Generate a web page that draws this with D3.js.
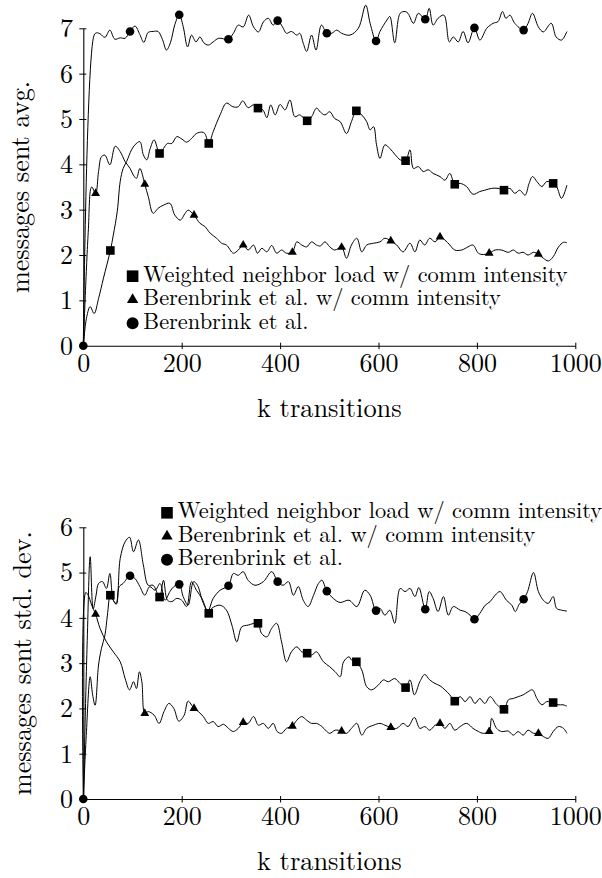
<!DOCTYPE html>
<html><head><meta charset="utf-8">
<script src="https://cdn.jsdelivr.net/npm/d3@7"></script>
<style>html,body{margin:0;padding:0;background:#fff;}svg{display:block;}</style>
</head><body>
<svg id="chart" width="602" height="878"></svg>
<script>
// ---------- tick labels / categories ----------
const xTicks = [0, 200, 400, 600, 800, 1000];
const avgTicks = [0, 1, 2, 3, 4, 5, 6, 7];
const sdTicks = [0, 1, 2, 3, 4, 5, 6];
const legendLabels = ["Weighted neighbor load w/ comm intensity", "Berenbrink et al. w/ comm intensity", "Berenbrink et al."];
const xLabel = "k transitions";
const avgLabel = "messages sent avg.";
const sdLabel = "messages sent std. dev.";

// marker positions (k)
const markSquareK = [55, 155, 255, 355, 455, 555, 655, 755, 855, 955];
const markTriangleK = [25, 125, 225, 325, 425, 525, 625, 725, 825, 925];
const markCircleK = [0, 95, 195, 295, 395, 495, 595, 695, 795, 895];

// ---------- top panel: messages sent avg. ----------
const avgSquareK = [0,7,14,22,31,41,55,61,69,75,81,88,98,105,115,122,129,136,144,155,163,171,180,190,200,210,220,230,241,247,255,264,278,291,304,315,324,335,346,355,365,373,381,390,400,410,420,430,440,455,464,474,482,491,501,511,522,535,545,555,566,576,583,590,596,603,613,623,634,644,655,664,671,681,691,701,711,725,735,745,755,766,779,792,806,816,830,843,855,867,877,887,898,906,913,922,932,942,955,962,972,983];
const avgSquareV = [0,0.64,0.86,0.71,1.04,1.49,2.10,2.44,2.96,3.62,3.91,4.06,4.32,4.43,4.5,4.21,4.1,4.35,4.54,4.24,4.35,4.46,4.46,4.61,4.56,4.49,4.57,4.68,4.71,4.68,4.46,4.72,5.09,5.35,5.27,5.27,5.40,5.25,5.31,5.24,5.20,5.03,5.31,5.09,5.32,5.2,5.42,5.05,5.09,4.96,5.05,5.24,5.15,5.09,5.16,5.01,4.94,4.68,4.94,5.18,5.09,4.94,4.76,4.83,4.43,4.13,4.43,4.35,4.21,4.1,4.08,4.32,3.91,3.95,3.84,3.88,3.80,3.73,3.65,3.80,3.56,3.58,3.51,3.34,3.40,3.43,3.47,3.47,3.43,3.47,3.36,3.43,3.32,3.58,3.73,3.62,3.51,3.62,3.58,3.51,3.25,3.54];

const avgTriangleK = [0,10,17,25,31,37,44,54,65,75,85,95,102,108,115,125,132,142,152,163,176,186,197,207,213,225,237,247,258,271,281,291,305,315,325,335,346,354,363,373,383,393,403,413,425,434,444,454,464,474,482,491,501,511,525,535,545,556,566,576,590,603,613,625,637,650,664,674,684,694,704,715,725,735,745,755,769,782,792,803,813,825,837,850,864,874,884,894,904,915,925,935,945,955,966,976,983];
const avgTriangleV = [0,2.5,3.5,3.36,3.84,4.17,4.2,3.99,4.40,4.28,4.06,3.91,3.76,3.69,3.91,3.56,3.29,2.92,3.03,3.10,3.14,2.88,2.77,2.92,2.99,2.88,2.70,2.63,2.48,2.37,2.26,2.22,2.04,2.11,2.22,2.11,2.22,2.04,2.15,2.07,2.21,2.04,2.11,2.04,2.06,2.29,2.22,2.18,2.29,2.22,2.2,2.29,2.18,2.11,2.17,1.93,2.22,2.37,2.07,2.22,2.26,2.29,2.37,2.31,2.22,2.07,2.26,2.07,2.33,2.22,2.37,2.29,2.40,2.33,2.22,2.11,2.11,2.18,2.22,2.04,2.01,2.04,2.11,2.11,2.06,2.11,2.04,2.06,2.0,2.06,2.02,1.93,1.87,1.96,2.18,2.28,2.27];

const avgCircleK = [0,22,27,34,44,54,64,75,85,95,105,115,123,132,142,152,161,169,177,186,195,203,212,220,229,237,245,254,264,275,295,305,315,325,336,346,356,366,376,386,395,405,413,423,434,440,447,454,464,473,484,495,505,515,525,542,559,574,583,595,603,617,623,633,644,654,660,671,681,695,703,711,721,733,744,752,762,772,782,795,806,820,833,843,852,859,867,877,895,904,913,925,935,951,961,972,983];
const avgCircleV = [0,6.85,6.9,6.88,6.8,6.96,6.76,6.79,6.78,6.93,7.05,6.86,6.69,6.91,6.93,6.93,6.75,6.52,6.68,7.08,7.3,7.04,6.59,6.85,6.7,6.81,6.68,6.63,6.70,6.78,6.76,6.89,7.07,7.03,7.29,7.03,6.92,7.14,7.22,7.07,7.17,7.03,6.89,6.93,6.85,6.89,6.67,6.49,6.85,6.52,7.07,6.89,6.89,6.96,6.89,6.85,7.0,7.51,7.11,6.72,6.93,7.18,7.26,6.68,7.33,7.37,7.33,7.11,7.33,7.2,7.44,7.07,7.22,7.29,6.70,6.81,6.70,6.93,6.68,7.01,6.74,7.0,7.11,7.15,7.37,7.22,7.29,7.11,6.96,7.11,7.33,7.03,6.92,7.11,6.81,6.74,6.93];

// ---------- bottom panel: messages sent std. dev. ----------
const sdSquareK = [0,6,14,19,24,31,37,44,49,55,61,67,75,85,94,102,112,122,132,142,155,163,171,180,190,200,210,220,230,241,255,261,278,291,302,312,322,335,355,362,373,383,393,403,413,423,434,444,455,464,474,488,501,512,522,529,540,545,555,566,576,586,600,610,620,633,644,655,664,673,684,694,704,715,725,735,745,755,766,776,786,796,806,816,827,840,855,864,874,884,894,904,913,922,932,942,955,965,975,983];
const sdSquareV = [0,1.4,2.7,2.3,2.07,2.96,3.33,3.62,4.06,4.5,4.39,4.3,5.31,5.68,5.78,5.46,5.72,5.17,4.72,4.72,4.46,4.83,4.39,4.36,4.43,4.39,4.25,4.80,4.61,4.43,4.10,4.21,4.28,4.17,3.84,3.47,3.80,3.84,3.88,3.66,3.58,3.77,3.88,3.47,3.03,3.25,3.36,3.25,3.22,3.18,3.25,3.03,2.92,2.81,2.70,3.03,3.14,3.07,3.03,2.85,2.48,2.41,2.52,2.63,2.59,2.66,2.55,2.46,2.63,2.30,2.59,2.75,2.63,2.55,2.5,2.41,2.30,2.16,2.26,2.15,2.26,2.11,2.22,2.11,2.26,2.09,1.98,2.19,2.22,2.26,2.30,2.37,2.41,2.22,2.08,2.15,2.13,2.08,2.08,2.05];

const sdTriangleK = [0,5,10,17,25,34,47,61,75,85,94,102,108,114,119,125,132,144,154,164,174,184,194,205,213,225,234,244,254,264,274,285,295,305,315,325,335,346,356,366,376,386,394,403,413,425,434,444,454,464,474,485,495,501,512,525,535,545,556,566,576,590,603,613,625,637,650,660,673,684,694,704,715,725,735,745,755,766,779,792,803,813,825,830,840,850,864,874,884,894,904,915,925,935,945,955,966,976,983];
const sdTriangleV = [0,4.56,4.5,4.28,4.08,3.77,3.47,3.25,3.03,2.66,2.41,2.59,2.44,2.81,2.59,1.89,1.93,1.85,1.67,1.93,2.11,2.0,1.72,1.85,2.16,2.0,1.93,1.82,1.67,1.71,1.60,1.65,1.56,1.49,1.56,1.69,1.67,1.82,1.63,1.67,1.56,1.67,1.49,1.45,1.56,1.61,1.74,1.82,1.74,1.67,1.67,1.60,1.49,1.45,1.52,1.50,1.45,1.56,1.67,1.41,1.56,1.63,1.67,1.63,1.58,1.56,1.67,1.60,1.80,1.56,1.60,1.52,1.63,1.67,1.56,1.67,1.52,1.60,1.67,1.56,1.49,1.45,1.49,1.78,1.56,1.49,1.50,1.41,1.49,1.41,1.52,1.45,1.45,1.38,1.34,1.49,1.60,1.56,1.45];

const sdCircleK = [0,8,14,20,26,31,39,47,54,61,67,73,81,95,105,115,125,135,146,156,166,176,184,195,203,213,224,232,243,253,264,278,295,305,315,325,335,349,366,383,395,406,417,427,437,447,457,468,478,485,495,508,522,540,556,572,583,595,603,613,623,633,644,654,664,674,682,695,703,711,721,732,742,752,766,776,786,795,806,817,827,837,847,860,871,878,886,895,903,915,925,935,945,955,962,972,983];
const sdCircleV = [0,3.5,5.35,4.2,4.5,4.76,4.8,4.65,4.98,4.39,4.32,4.69,4.76,4.93,4.87,4.69,4.50,4.69,4.61,4.76,4.39,4.58,4.69,4.74,4.47,4.28,4.80,4.72,4.35,4.15,4.43,4.61,4.71,4.98,4.94,5.02,4.83,4.72,4.80,5.02,4.80,4.72,4.80,4.50,4.69,4.39,4.25,4.50,4.76,4.83,4.59,4.43,4.34,4.39,4.25,4.61,4.50,4.16,4.21,4.06,4.17,3.88,4.65,4.58,4.65,4.47,4.67,4.19,4.58,4.43,4.14,4.47,4.06,4.25,4.17,4.14,4.06,3.97,4.10,4.28,4.36,4.50,4.58,4.39,4.28,4.14,4.3,4.41,4.58,5.0,4.58,4.39,4.32,4.47,4.21,4.17,4.15];

// ---------- drawing ----------
const svg = d3.select("#chart");
const FONT = '"Latin Modern Roman", "Liberation Serif", serif';
const x = d3.scaleLinear().domain([0, 1000]).range([83.3, 575.3]);

function zip(ks, vs) { return ks.map((k, i) => ({k: k, v: vs[i]})); }

function drawPanel(cfg) {
  const y = d3.scaleLinear().domain([0, cfg.ymax]).range([cfg.y0, cfg.yTop]);
  const g = svg.append("g");

  // x axis
  const xa = g.append("g").attr("transform", `translate(0,${cfg.y0})`)
    .call(d3.axisBottom(x).tickValues(xTicks).tickFormat(d3.format("d")).tickSize(3.5).tickSizeOuter(0));
  xa.attr("font-family", null).attr("font-size", null);
  xa.select(".domain").attr("stroke", "#000").attr("stroke-width", 1.1);
  xa.selectAll(".tick line").attr("y1", -3).attr("y2", 3.5).attr("stroke", "#000").attr("stroke-width", 1);
  xa.selectAll(".tick text").attr("y", 26.3).attr("dy", 0)
    .style("font-family", FONT).style("font-size", "26px").attr("fill", "#000");

  // y axis
  const ya = g.append("g").attr("transform", `translate(${x(0)},0)`)
    .call(d3.axisLeft(y).tickValues(cfg.ticks).tickFormat(d3.format("d")).tickSize(4).tickSizeOuter(0));
  ya.attr("font-family", null).attr("font-size", null);
  ya.select(".domain").attr("stroke", "#000").attr("stroke-width", 1.1);
  ya.selectAll(".tick line").attr("x1", -4).attr("x2", 3).attr("stroke", "#000").attr("stroke-width", 1);
  ya.selectAll(".tick text").attr("x", -10.3).attr("dy", 0).attr("y", 8.4)
    .style("font-family", FONT).style("font-size", "26px").attr("fill", "#000");

  // lines
  const line = d3.line().x(d => x(d.k)).y(d => y(d.v)).curve(d3.curveCatmullRom.alpha(0.5));
  const series = [
    {data: zip(cfg.sqK, cfg.sqV), marks: markSquareK, sym: d3.symbol().type(d3.symbolSquare).size(74)},
    {data: zip(cfg.trK, cfg.trV), marks: markTriangleK, sym: d3.symbol().type(d3.symbolTriangle).size(34)},
    {data: zip(cfg.ciK, cfg.ciV), marks: markCircleK, sym: d3.symbol().type(d3.symbolCircle).size(58)}
  ];
  series.forEach(s => {
    g.append("path").datum(s.data).attr("d", line)
      .attr("fill", "none").attr("stroke", "#000").attr("stroke-width", 1).attr("stroke-linejoin", "round");
  });
  series.forEach(s => {
    const pts = s.marks.map(m => d3.least(s.data, d => Math.abs(d.k - m)));
    g.selectAll(null).data(pts).enter().append("path")
      .attr("d", s.sym())
      .attr("transform", d => `translate(${x(d.k)},${y(d.v)})`)
      .attr("fill", "#000");
  });

  // legend
  const legSyms = [d3.symbol().type(d3.symbolSquare).size(135), d3.symbol().type(d3.symbolTriangle).size(56), d3.symbol().type(d3.symbolCircle).size(112)];
  legendLabels.forEach((lab, i) => {
    const by = cfg.legY + i * 23.5;
    g.append("path").attr("d", legSyms[i]()).attr("transform", `translate(${cfg.legX - 10.7},${by - 5.5})`).attr("fill", "#000");
    g.append("text").attr("x", cfg.legX).attr("y", by).text(lab)
      .style("font-family", FONT).style("font-size", "22.4px").attr("fill", "#000");
  });

  // axis labels
  g.append("text").attr("x", (x(0) + x(1000)) / 2).attr("y", cfg.y0 + 71).text(xLabel)
    .attr("text-anchor", "middle").style("font-family", FONT).style("font-size", "26.4px");
  g.append("text").attr("transform", `translate(${cfg.ylabX},${(cfg.y0 + cfg.yTop) / 2}) rotate(-90)`)
    .text(cfg.ylabel).attr("text-anchor", "middle").style("font-family", FONT).style("font-size", "26.2px");
}

drawPanel({ymax: 7, y0: 345.7, yTop: 28.3, ticks: avgTicks,
  sqK: avgSquareK, sqV: avgSquareV, trK: avgTriangleK, trV: avgTriangleV, ciK: avgCircleK, ciV: avgCircleV,
  legX: 143.3, legY: 281.7, ylabel: avgLabel, ylabX: 28.5});
drawPanel({ymax: 6, y0: 799, yTop: 527.3, ticks: sdTicks,
  sqK: sdSquareK, sqV: sdSquareV, trK: sdTriangleK, trV: sdTriangleV, ciK: sdCircleK, ciV: sdCircleV,
  legX: 177.7, legY: 518.3, ylabel: sdLabel, ylabX: 31});
</script>
</body></html>
